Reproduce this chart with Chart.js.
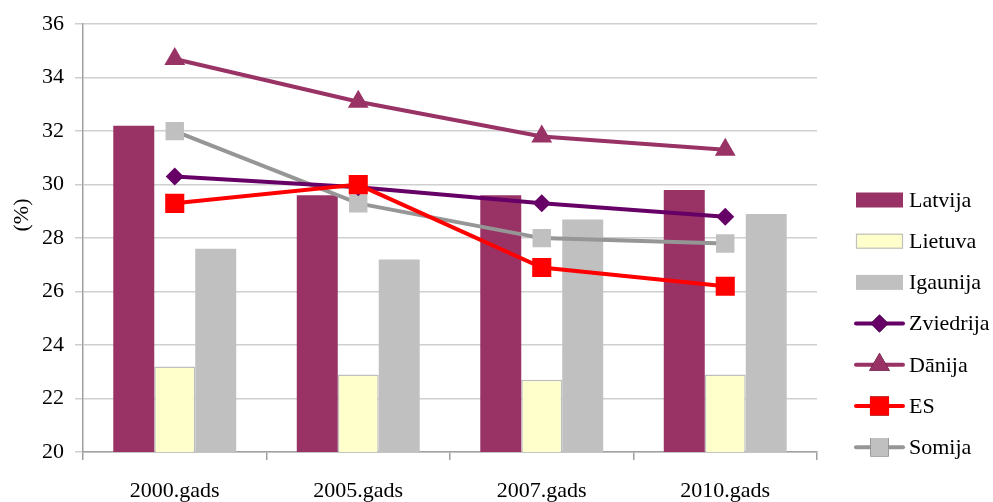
<!DOCTYPE html>
<html>
<head>
<meta charset="utf-8">
<script src="https://cdn.jsdelivr.net/npm/chart.js@4"></script>
<style>
  html, body { margin: 0; padding: 0; background: #ffffff; }
  #wrap { width: 993px; height: 502px; }
</style>
</head>
<body>
<div id="wrap"><canvas id="c" width="993" height="502"></canvas></div>
<script>
const categories = ["2000.gads", "2005.gads", "2007.gads", "2010.gads"];
const latvija   = [32.2, 29.6, 29.6, 29.8];
const lietuva   = [23.2, 22.9, 22.7, 22.9];
const igaunija  = [27.6, 27.2, 28.7, 28.9];
const zviedrija = [30.3, 29.9, 29.3, 28.8];
const danija    = [34.7, 33.1, 31.8, 31.3];
const es        = [29.3, 30.0, 26.9, 26.2];
const somija    = [32.0, 29.3, 28.0, 27.8];
const yTitle = "(%)";

const FONT = "'Liberation Serif', 'Times New Roman', serif";

const legendPlugin = {
  id: 'customLegend',
  afterDraw(chart) {
    const ctx = chart.ctx;
    ctx.save();
    // y title
    ctx.save();
    ctx.translate(22, 215);
    ctx.rotate(-Math.PI / 2);
    ctx.font = "22px " + FONT;
    ctx.fillStyle = '#000';
    ctx.textAlign = 'center';
    ctx.textBaseline = 'middle';
    ctx.fillText(yTitle, 0, 0);
    ctx.restore();

    const x0 = 856, x1 = 903, tx = 909;
    const y0 = 200, dy = 41.2;
    chart.data.datasets.forEach((ds, i) => {
      const cy = y0 + i * dy;
      if (ds.type === 'bar') {
        ctx.fillStyle = ds.backgroundColor;
        ctx.fillRect(x0, cy - 7.5, x1 - x0, 15);
        if (ds.borderWidth) {
          ctx.strokeStyle = ds.borderColor;
          ctx.lineWidth = 1.2;
          ctx.strokeRect(x0 + 0.5, cy - 7, x1 - x0 - 1, 14);
        }
      } else {
        ctx.strokeStyle = ds.borderColor;
        ctx.lineWidth = ds.borderWidth;
        ctx.lineCap = 'round';
        ctx.beginPath();
        ctx.moveTo(x0, cy);
        ctx.lineTo(x1, cy);
        ctx.stroke();
        Chart.helpers.drawPoint(ctx, {
          pointStyle: ds.pointStyle,
          radius: ds.pointRadius,
          borderWidth: 0,
          rotation: 0
        }, (x0 + x1) / 2, cy);
        ctx.fillStyle = ds.pointBackgroundColor;
        ctx.fill();
      }
      ctx.fillStyle = '#000';
      ctx.font = "22px " + FONT;
      ctx.textAlign = 'left';
      ctx.textBaseline = 'middle';
      ctx.fillText(ds.label, tx, cy + 1);
    });
    ctx.restore();
  }
};

new Chart(document.getElementById('c'), {
  data: {
    labels: categories,
    datasets: [
      { type: 'bar', label: 'Latvija', data: latvija, backgroundColor: '#993366', borderWidth: 0, order: 10 },
      { type: 'bar', label: 'Lietuva', data: lietuva, backgroundColor: '#FFFFCC', borderColor: '#BFBFBF', borderWidth: 1.5, order: 10 },
      { type: 'bar', label: 'Igaunija', data: igaunija, backgroundColor: '#C0C0C0', borderWidth: 0, order: 10 },
      { type: 'line', label: 'Zviedrija', data: zviedrija, borderColor: '#660066', borderWidth: 4,
        pointStyle: 'rectRot', pointRadius: 9, pointBackgroundColor: '#660066', pointBorderColor: '#660066', pointBorderWidth: 0, order: 3 },
      { type: 'line', label: 'Dānija', data: danija, borderColor: '#993366', borderWidth: 4,
        pointStyle: 'triangle', pointRadius: 12, pointBackgroundColor: '#993366', pointBorderColor: '#993366', pointBorderWidth: 0, order: 2 },
      { type: 'line', label: 'ES', data: es, borderColor: '#FF0000', borderWidth: 4,
        pointStyle: 'rect', pointRadius: 13.5, pointBackgroundColor: '#FF0000', pointBorderColor: '#FF0000', pointBorderWidth: 0, order: 1 },
      { type: 'line', label: 'Somija', data: somija, borderColor: '#969696', borderWidth: 4,
        pointStyle: 'rect', pointRadius: 13, pointBackgroundColor: '#C0C0C0', pointBorderColor: '#C0C0C0', pointBorderWidth: 0, order: 4 }
    ]
  },
  options: {
    responsive: false,
    animation: false,
    devicePixelRatio: 1,
    layout: { padding: { left: 0, right: 176, top: 12, bottom: 0 } },
    plugins: { legend: { display: false }, tooltip: { enabled: false } },
    datasets: {
      bar: { barPercentage: 1.0, categoryPercentage: 0.67 },
      line: { tension: 0 }
    },
    scales: {
      x: {
        offset: true,
        grid: { display: true, drawOnChartArea: false, drawTicks: true, tickLength: 8, color: '#A0A0A0', lineWidth: 1.5, offset: true },
        border: { display: true, color: '#A0A0A0', width: 1.5 },
        ticks: { color: '#000', font: { family: FONT, size: 22 }, padding: 18, maxRotation: 0 },
        afterFit(scale) { scale.height = 50; }
      },
      y: {
        min: 20, max: 36,
        ticks: { stepSize: 2, color: '#000', font: { family: FONT, size: 22 }, padding: 11 },
        grid: { color: '#CFCFCF', lineWidth: 1.5, drawTicks: true, tickLength: 8 },
        border: { display: true, color: '#A0A0A0', width: 1.5 },
        afterFit(scale) { scale.width = 83; }
      }
    }
  },
  plugins: [legendPlugin]
});
</script>
</body>
</html>
